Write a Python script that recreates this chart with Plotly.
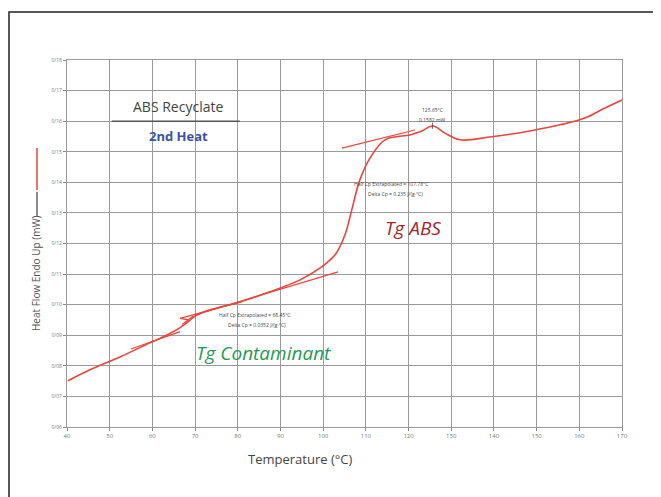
import plotly.graph_objects as go

# ---- data ----
temp = [40.2, 45.4, 52.4, 59.4, 64.0, 66.5, 68.5, 70.0, 73.5, 80.5, 87.5, 94.6, 99.3, 102.8,
        105.1, 106.7, 108.6, 111.0, 114.5, 120.3, 122.7, 125.7, 128.5, 132.0, 139.0,
        148.4, 155.5, 161.3, 166.0, 170.0]
heat_flow = [0.0751, 0.0787, 0.0829, 0.0875, 0.0905, 0.0925, 0.0945, 0.0963, 0.0983, 0.1009,
             0.1042, 0.1081, 0.1120, 0.1163, 0.1228, 0.1310, 0.1408, 0.1480, 0.1539, 0.1555,
             0.1565, 0.1584, 0.1561, 0.1539, 0.1548, 0.1568, 0.1588, 0.1610, 0.1643, 0.1669]

# tangent (baseline) lines
abs_upper_t = [104.4, 121.5]
abs_upper_y = [0.1512, 0.1571]
abs_lower_t = [70.0, 103.5]
abs_lower_y = [0.0967, 0.1107]
cont_lower_t = [55.0, 66.5]
cont_lower_y = [0.0855, 0.0912]
cont_upper_t = [66.5, 81.0]
cont_upper_y = [0.0955, 0.1010]
cont_step_t = [66.5, 68.5, 67.0, 69.5]
cont_step_y = [0.0955, 0.0950, 0.0935, 0.0962]

x_ticks = [40, 50, 60, 70, 80, 90, 100, 110, 120, 130, 140, 150, 160, 170]
y_ticks = [0.06, 0.07, 0.08, 0.09, 0.10, 0.11, 0.12, 0.13, 0.14, 0.15, 0.16, 0.17, 0.18]
y_tick_text = ["0/06", "0/07", "0/08", "0/09", "0/10", "0/11", "0/12", "0/13", "0/14",
               "0/15", "0/16", "0/17", "0/18"]

RED = "#e8453c"
FONT = "Open Sans, DejaVu Sans"

fig = go.Figure()
fig.add_trace(go.Scatter(x=temp, y=heat_flow, mode="lines",
                         line=dict(color=RED, width=1.6, shape="spline"), showlegend=False))
for tx, ty in [(abs_upper_t, abs_upper_y), (abs_lower_t, abs_lower_y),
               (cont_lower_t, cont_lower_y), (cont_upper_t, cont_upper_y),
               (cont_step_t, cont_step_y)]:
    fig.add_trace(go.Scatter(x=tx, y=ty, mode="lines",
                             line=dict(color=RED, width=1.2), showlegend=False))

ann = []
def txt(x, y, s, size, color, **kw):
    ann.append(dict(x=x, y=y, xref="x", yref="y", text=s, showarrow=False,
                    font=dict(size=size, color=color, family=FONT), **kw))

txt(66.0, 0.1648, "ABS Recyclate", 14, "#444444")
txt(66.0, 0.1552, "<b>2nd Heat</b>", 13, "#3a53a4")
txt(121.0, 0.1251, "<i>Tg ABS</i>", 19, "#a3262a")
txt(86.0, 0.0843, "<i>Tg Contaminant</i>", 19, "#1f9a55")
txt(125.5, 0.1635, "125.65°C", 5, "#444444")
txt(125.5, 0.1603, "0.1582 mW", 5, "#444444")
txt(116.0, 0.1393, "Half Cp Extrapolated = 107.78°C", 5, "#444444")
txt(117.0, 0.1363, "Delta Cp = 0.235 J/(g·°C)", 5, "#444444")
txt(84.0, 0.0965, "Half Cp Extrapolated = 68.45°C", 5, "#444444")
txt(84.5, 0.0935, "Delta Cp = 0.0352 J/(g·°C)", 5, "#444444")

# page offset of 8px (body margin) is compensated in the margins
def px(xp): return (xp - 67) / 555
def py(yp): return (427 - yp) / 367

ann.append(dict(x=px(300), y=py(459), xref="paper", yref="paper", yanchor="middle",
                text="Temperature (°C)", showarrow=False,
                font=dict(size=13, color="#444444", family=FONT)))
ann.append(dict(x=px(36), y=py(273), xref="paper", yref="paper", xanchor="center",
                yanchor="middle", text="Heat Flow Endo Up (mW)", showarrow=False, textangle=-90,
                font=dict(size=10, color="#555555", family=FONT)))

shapes = [
    dict(type="rect", xref="paper", yref="paper", x0=px(9), x1=px(690), y0=py(520), y1=py(12),
         line=dict(color="#222222", width=1.5)),
    dict(type="line", xref="paper", yref="paper", x0=px(37), x1=px(37), y0=py(148), y1=py(190),
         line=dict(color=RED, width=1.5)),
    dict(type="line", xref="paper", yref="paper", x0=px(37), x1=px(37), y0=py(192), y1=py(216),
         line=dict(color="#666666", width=1.5)),
    dict(type="line", xref="x", yref="y", x0=50.5, x1=80.5, y0=0.16, y1=0.16,
         line=dict(color="#555555", width=1.5)),
    dict(type="line", xref="x", yref="y", x0=125.6, x1=125.6, y0=0.1575, y1=0.1595,
         line=dict(color="#444444", width=0.8)),
]

fig.update_layout(
    width=661, height=497,
    margin=dict(l=59, r=47, t=52, b=78),
    paper_bgcolor="white", plot_bgcolor="white",
    annotations=ann, shapes=shapes,
    xaxis=dict(range=[40, 170], tickvals=x_ticks, ticktext=[str(v) for v in x_ticks],
               showgrid=True, gridcolor="#9a9a9a", gridwidth=1.2, zeroline=False,
               showline=True, linecolor="#9a9a9a", linewidth=1.2, mirror=True,
               ticks="outside", ticklen=3, tickcolor="#888",
               tickfont=dict(size=6, color="#777777")),
    yaxis=dict(range=[0.06, 0.18], tickvals=y_ticks, ticktext=y_tick_text,
               showgrid=True, gridcolor="#9a9a9a", gridwidth=1.2, zeroline=False,
               showline=True, linecolor="#9a9a9a", linewidth=1.2, mirror=True,
               ticks="outside", ticklen=3, tickcolor="#888",
               tickfont=dict(size=5, color="#777777")),
)

fig.write_html("out.html")
